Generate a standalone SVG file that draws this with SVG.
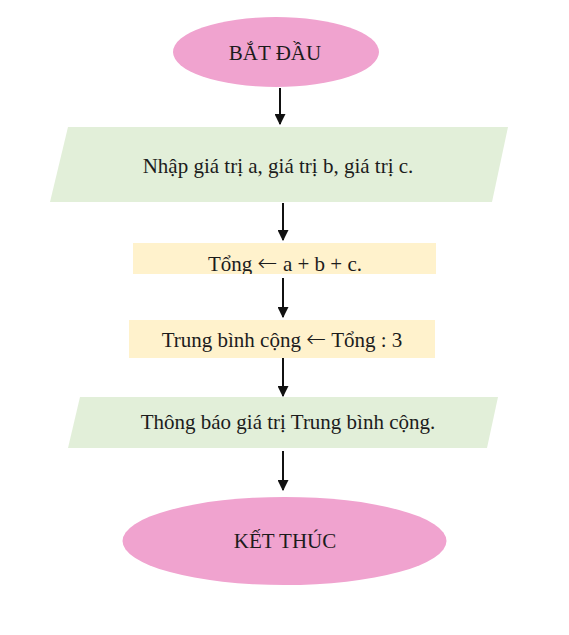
<svg xmlns="http://www.w3.org/2000/svg" width="569" height="635" viewBox="0 0 569 635">
<style>
.term{fill:#f0a3cf}
.io{fill:#e2efd9}
.proc{fill:#fff2cc}
.t{font-family:"Liberation Serif","Times New Roman",serif;font-size:21px;fill:#1c1c1c;text-anchor:middle}
.ar{font-family:"DejaVu Sans",sans-serif;font-size:24px;font-weight:200}
.c{stroke:#111;stroke-width:2;fill:none;marker-end:url(#ah)}
</style>
<defs>
<marker id="ah" viewBox="0 0 10 10" refX="9" refY="5" markerWidth="5.5" markerHeight="5.5" orient="auto" markerUnits="strokeWidth">
<path d="M0,0 L10,5 L0,10 z" fill="#111"/>
</marker>
<clipPath id="clipTong"><rect x="133" y="243" width="303" height="31"/></clipPath>
</defs>
<rect width="569" height="635" fill="#ffffff"/>
<g id="connectors">
<line class="c" x1="280" y1="88" x2="280" y2="124"/>
<line class="c" x1="283" y1="203" x2="283" y2="240"/>
<line class="c" x1="283" y1="278" x2="283" y2="317"/>
<line class="c" x1="283" y1="358" x2="283" y2="396"/>
<line class="c" x1="283" y1="451" x2="283" y2="490"/>
</g>
<g id="start">
<ellipse class="term" cx="276" cy="52" rx="103" ry="35"/>
<text class="t" x="275" y="60">BẮT ĐẦU</text>
</g>
<g id="input">
<polygon class="io" points="68,127 508,127 492,202 50,202"/>
<text class="t" x="278" y="173">Nhập giá trị a, giá trị b, giá trị c.</text>
</g>
<g id="sum">
<rect class="proc" x="133" y="243" width="303" height="31"/>
<text class="t" x="285" y="271" clip-path="url(#clipTong)">Tổng <tspan class="ar">←</tspan> a + b + c.</text>
</g>
<g id="average">
<rect class="proc" x="129" y="320" width="306" height="38"/>
<text class="t" x="282" y="347">Trung bình cộng <tspan class="ar">←</tspan> Tổng : 3</text>
</g>
<g id="output">
<polygon class="io" points="80,397 498,397 487,448 68,448"/>
<text class="t" x="288" y="429">Thông báo giá trị Trung bình cộng.</text>
</g>
<g id="end">
<ellipse class="term" cx="284.5" cy="541" rx="162" ry="44"/>
<text class="t" x="285" y="548">KẾT THÚC</text>
</g>
</svg>
